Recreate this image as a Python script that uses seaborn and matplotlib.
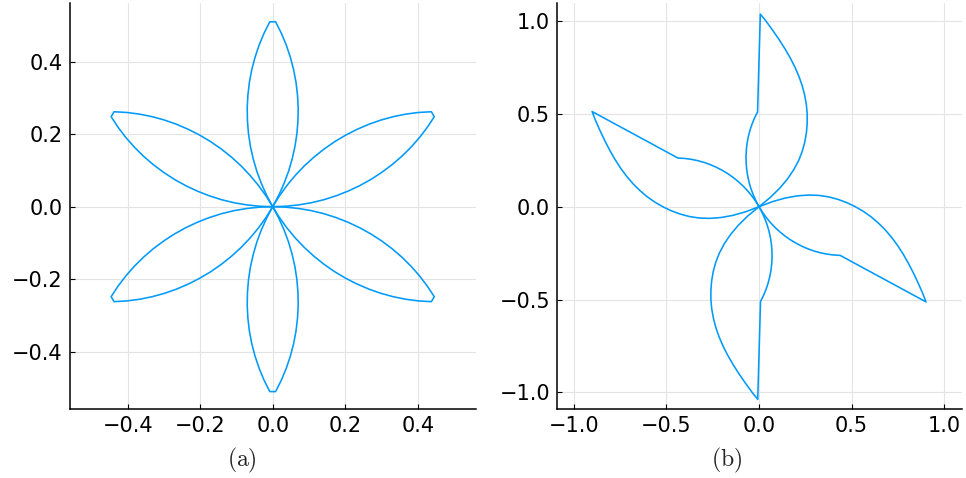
import matplotlib
matplotlib.use("Agg")
import matplotlib.pyplot as plt
import pandas as pd
import seaborn as sns

LINE_COLOR = "#009AFA"

# ---------------- (a): six lens-shaped petals ----------------
petal_090_x = [0, -0.0167, -0.0313, -0.0437, -0.0537, -0.0615, -0.0668, -0.0697,
               -0.0703, -0.0684, -0.0642, -0.0576, -0.0486, -0.0373, -0.0238, -0.0080,
               0.0080, 0.0238, 0.0373, 0.0486, 0.0576, 0.0642, 0.0684, 0.0703,
               0.0697, 0.0668, 0.0615, 0.0537, 0.0437, 0.0313, 0.0167, 0]
petal_090_y = [0, 0.0314, 0.0640, 0.0974, 0.1316, 0.1664, 0.2017, 0.2372,
               0.2728, 0.3083, 0.3436, 0.3784, 0.4126, 0.4461, 0.4786, 0.51,
               0.51, 0.4786, 0.4461, 0.4126, 0.3784, 0.3436, 0.3083, 0.2728,
               0.2372, 0.2017, 0.1664, 0.1316, 0.0974, 0.0640, 0.0314, 0]

petal_270_x = [0, -0.0167, -0.0313, -0.0437, -0.0537, -0.0615, -0.0668, -0.0697,
               -0.0703, -0.0684, -0.0642, -0.0576, -0.0486, -0.0373, -0.0238, -0.0080,
               0.0080, 0.0238, 0.0373, 0.0486, 0.0576, 0.0642, 0.0684, 0.0703,
               0.0697, 0.0668, 0.0615, 0.0537, 0.0437, 0.0313, 0.0167, 0]
petal_270_y = [0, -0.0314, -0.0640, -0.0974, -0.1316, -0.1664, -0.2017, -0.2372,
               -0.2728, -0.3083, -0.3436, -0.3784, -0.4126, -0.4461, -0.4786, -0.51,
               -0.51, -0.4786, -0.4461, -0.4126, -0.3784, -0.3436, -0.3083, -0.2728,
               -0.2372, -0.2017, -0.1664, -0.1316, -0.0974, -0.0640, -0.0314, 0]

petal_150_x = [0, -0.0355, -0.0711, -0.1062, -0.1409, -0.1748, -0.2080, -0.2403,
               -0.2715, -0.3012, -0.3297, -0.3565, -0.3816, -0.4050, -0.4263, -0.4457,
               -0.4377, -0.4026, -0.3676, -0.3330, -0.2989, -0.2655, -0.2328, -0.2012,
               -0.1705, -0.1413, -0.1134, -0.0871, -0.0626, -0.0397, -0.0188, 0]
petal_150_y = [0, 0.0012, 0.0049, 0.0108, 0.0192, 0.0300, 0.0430, 0.0582,
               0.0755, 0.0949, 0.1162, 0.1393, 0.1642, 0.1907, 0.2187, 0.2481,
               0.2619, 0.2599, 0.2554, 0.2484, 0.2391, 0.2274, 0.2134, 0.1973,
               0.1790, 0.1587, 0.1364, 0.1124, 0.0866, 0.0591, 0.0302, 0]

petal_030_x = [0, 0.0355, 0.0711, 0.1062, 0.1409, 0.1748, 0.2080, 0.2403,
               0.2715, 0.3012, 0.3297, 0.3565, 0.3816, 0.4050, 0.4263, 0.4457,
               0.4377, 0.4026, 0.3676, 0.3330, 0.2989, 0.2655, 0.2328, 0.2012,
               0.1705, 0.1413, 0.1134, 0.0871, 0.0626, 0.0397, 0.0188, 0]
petal_030_y = [0, 0.0012, 0.0049, 0.0108, 0.0192, 0.0300, 0.0430, 0.0582,
               0.0755, 0.0949, 0.1162, 0.1393, 0.1642, 0.1907, 0.2187, 0.2481,
               0.2619, 0.2599, 0.2554, 0.2484, 0.2391, 0.2274, 0.2134, 0.1973,
               0.1790, 0.1587, 0.1364, 0.1124, 0.0866, 0.0591, 0.0302, 0]

petal_210_x = [0, -0.0355, -0.0711, -0.1062, -0.1409, -0.1748, -0.2080, -0.2403,
               -0.2715, -0.3012, -0.3297, -0.3565, -0.3816, -0.4050, -0.4263, -0.4457,
               -0.4377, -0.4026, -0.3676, -0.3330, -0.2989, -0.2655, -0.2328, -0.2012,
               -0.1705, -0.1413, -0.1134, -0.0871, -0.0626, -0.0397, -0.0188, 0]
petal_210_y = [0, -0.0012, -0.0049, -0.0108, -0.0192, -0.0300, -0.0430, -0.0582,
               -0.0755, -0.0949, -0.1162, -0.1393, -0.1642, -0.1907, -0.2187, -0.2481,
               -0.2619, -0.2599, -0.2554, -0.2484, -0.2391, -0.2274, -0.2134, -0.1973,
               -0.1790, -0.1587, -0.1364, -0.1124, -0.0866, -0.0591, -0.0302, 0]

petal_330_x = [0, 0.0355, 0.0711, 0.1062, 0.1409, 0.1748, 0.2080, 0.2403,
               0.2715, 0.3012, 0.3297, 0.3565, 0.3816, 0.4050, 0.4263, 0.4457,
               0.4377, 0.4026, 0.3676, 0.3330, 0.2989, 0.2655, 0.2328, 0.2012,
               0.1705, 0.1413, 0.1134, 0.0871, 0.0626, 0.0397, 0.0188, 0]
petal_330_y = [0, -0.0012, -0.0049, -0.0108, -0.0192, -0.0300, -0.0430, -0.0582,
               -0.0755, -0.0949, -0.1162, -0.1393, -0.1642, -0.1907, -0.2187, -0.2481,
               -0.2619, -0.2599, -0.2554, -0.2484, -0.2391, -0.2274, -0.2134, -0.1973,
               -0.1790, -0.1587, -0.1364, -0.1124, -0.0866, -0.0591, -0.0302, 0]

# ---------------- (b): four blades of the pinwheel ----------------
# each blade: inner arc out from the centre, straight edge to the blade tip,
# then the wide outer arc back to the centre
blade_up_x = [0, -0.0167, -0.0313, -0.0437, -0.0537, -0.0615, -0.0668, -0.0697,
              -0.0703, -0.0684, -0.0642, -0.0576, -0.0486, -0.0373, -0.0238, -0.0080,
              0.007, 0.037, 0.0735, 0.108, 0.140, 0.169, 0.1945, 0.216, 0.2335, 0.2465,
              0.2555, 0.260, 0.260, 0.256, 0.2475, 0.234, 0.2145, 0.188, 0.154, 0.112,
              0.061, 0]
blade_up_y = [0, 0.0314, 0.0640, 0.0974, 0.1316, 0.1664, 0.2017, 0.2372,
              0.2728, 0.3083, 0.3436, 0.3784, 0.4126, 0.4461, 0.4786, 0.51,
              1.037, 1.00, 0.95, 0.90, 0.85, 0.80, 0.75, 0.70, 0.65, 0.60,
              0.55, 0.50, 0.45, 0.40, 0.35, 0.30, 0.25, 0.20, 0.15, 0.10,
              0.05, 0]

blade_left_x = [0, -0.0188, -0.0397, -0.0626, -0.0871, -0.1134, -0.1413, -0.1705,
                -0.2012, -0.2328, -0.2655, -0.2989, -0.3330, -0.3676, -0.4026, -0.4377,
                -0.9016, -0.8845, -0.8595, -0.8334, -0.8061, -0.7773, -0.7468, -0.7142,
                -0.6797, -0.6429, -0.6041, -0.5630, -0.5197, -0.4744, -0.4269, -0.3768,
                -0.3238, -0.2672, -0.2069, -0.1426, -0.0738, 0]
blade_left_y = [0, 0.0302, 0.0591, 0.0866, 0.1124, 0.1364, 0.1587, 0.1790,
                0.1973, 0.2134, 0.2274, 0.2391, 0.2484, 0.2554, 0.2599, 0.2619,
                0.5124, 0.4680, 0.4114, 0.3565, 0.3038, 0.2536, 0.2066, 0.1629,
                0.1228, 0.0865, 0.0537, 0.0248, -0.0002, -0.0217, -0.0393, -0.0527,
                -0.0608, -0.0628, -0.0584, -0.0470, -0.0278, 0]

blade_down_x = [0, 0.0167, 0.0313, 0.0437, 0.0537, 0.0615, 0.0668, 0.0697,
                0.0703, 0.0684, 0.0642, 0.0576, 0.0486, 0.0373, 0.0238, 0.0080,
                -0.007, -0.037, -0.0735, -0.108, -0.140, -0.169, -0.1945, -0.216, -0.2335, -0.2465,
                -0.2555, -0.260, -0.260, -0.256, -0.2475, -0.234, -0.2145, -0.188, -0.154, -0.112,
                -0.061, 0]
blade_down_y = [0, -0.0314, -0.0640, -0.0974, -0.1316, -0.1664, -0.2017, -0.2372,
                -0.2728, -0.3083, -0.3436, -0.3784, -0.4126, -0.4461, -0.4786, -0.51,
                -1.037, -1.00, -0.95, -0.90, -0.85, -0.80, -0.75, -0.70, -0.65, -0.60,
                -0.55, -0.50, -0.45, -0.40, -0.35, -0.30, -0.25, -0.20, -0.15, -0.10,
                -0.05, 0]

blade_right_x = [0, 0.0188, 0.0397, 0.0626, 0.0871, 0.1134, 0.1413, 0.1705,
                 0.2012, 0.2328, 0.2655, 0.2989, 0.3330, 0.3676, 0.4026, 0.4377,
                 0.9016, 0.8845, 0.8595, 0.8334, 0.8061, 0.7773, 0.7468, 0.7142,
                 0.6797, 0.6429, 0.6041, 0.5630, 0.5197, 0.4744, 0.4269, 0.3768,
                 0.3238, 0.2672, 0.2069, 0.1426, 0.0738, 0]
blade_right_y = [0, -0.0302, -0.0591, -0.0866, -0.1124, -0.1364, -0.1587, -0.1790,
                 -0.1973, -0.2134, -0.2274, -0.2391, -0.2484, -0.2554, -0.2599, -0.2619,
                 -0.5124, -0.4680, -0.4114, -0.3565, -0.3038, -0.2536, -0.2066, -0.1629,
                 -0.1228, -0.0865, -0.0537, -0.0248, 0.0002, 0.0217, 0.0393, 0.0527,
                 0.0608, 0.0628, 0.0584, 0.0470, 0.0278, 0]

x_ticks_a = [-0.4, -0.2, 0.0, 0.2, 0.4]
y_ticks_a = [-0.4, -0.2, 0.0, 0.2, 0.4]
x_ticks_b = [-1.0, -0.5, 0.0, 0.5, 1.0]
y_ticks_b = [-1.0, -0.5, 0.0, 0.5, 1.0]
panel_labels = ["(a)", "(b)"]


def paths_frame(paths):
    rows = []
    for name, xs, ys in paths:
        for i, (x, y) in enumerate(zip(xs, ys)):
            rows.append({"path": name, "order": i, "x": x, "y": y})
    return pd.DataFrame(rows)


df_a = paths_frame([
    ("p090", petal_090_x, petal_090_y),
    ("p030", petal_030_x, petal_030_y),
    ("p150", petal_150_x, petal_150_y),
    ("p210", petal_210_x, petal_210_y),
    ("p270", petal_270_x, petal_270_y),
    ("p330", petal_330_x, petal_330_y),
])
df_b = paths_frame([
    ("up", blade_up_x, blade_up_y),
    ("left", blade_left_x, blade_left_y),
    ("down", blade_down_x, blade_down_y),
    ("right", blade_right_x, blade_right_y),
])

sns.set_theme(style="white")
plt.rcParams["font.family"] = ["DejaVu Sans"]
plt.rcParams["mathtext.fontset"] = "cm"

fig = plt.figure(figsize=(9.66, 4.78), dpi=100)
ax_a = fig.add_axes([69.7 / 966, 69 / 478, 406 / 966, 405.7 / 478])
ax_b = fig.add_axes([557 / 966, 69 / 478, 405 / 966, 405.7 / 478])


def style_axes(ax, xticks, yticks, xlim, ylim):
    ax.set_xlim(*xlim)
    ax.set_ylim(*ylim)
    ax.set_xticks(xticks)
    ax.set_yticks(yticks)
    ax.set_xticklabels([f"{t:.1f}".replace("-", "\u2212") for t in xticks])
    ax.set_yticklabels([f"{t:.1f}".replace("-", "\u2212") for t in yticks])
    ax.grid(True, color="#e4e4e4", linewidth=0.8)
    ax.set_axisbelow(True)
    for side in ("top", "right"):
        ax.spines[side].set_visible(False)
    for side in ("left", "bottom"):
        ax.spines[side].set_color("black")
        ax.spines[side].set_linewidth(1.1)
    ax.tick_params(direction="in", length=3.5, width=0.8, color="black",
                   labelsize=15, labelcolor="black", pad=5,
                   bottom=True, left=True)
    ax.set_xlabel("")
    ax.set_ylabel("")


for ax, df in ((ax_a, df_a), (ax_b, df_b)):
    sns.lineplot(data=df, x="x", y="y", units="path", estimator=None,
                 sort=False, color=LINE_COLOR, linewidth=1.15, ax=ax,
                 legend=False)

style_axes(ax_a, x_ticks_a, y_ticks_a, (-0.56, 0.56), (-0.558, 0.561))
style_axes(ax_b, x_ticks_b, y_ticks_b, (-1.091, 1.096), (-1.089, 1.095))

fig.text(241.7 / 966, 1 - 460 / 478, r"$\mathrm{" + panel_labels[0] + "}$",
         ha="center", va="center", fontsize=17, color="#222222")
fig.text(727 / 966, 1 - 460 / 478, r"$\mathrm{" + panel_labels[1] + "}$",
         ha="center", va="center", fontsize=17, color="#222222")

fig.savefig("out.png", dpi=100)
